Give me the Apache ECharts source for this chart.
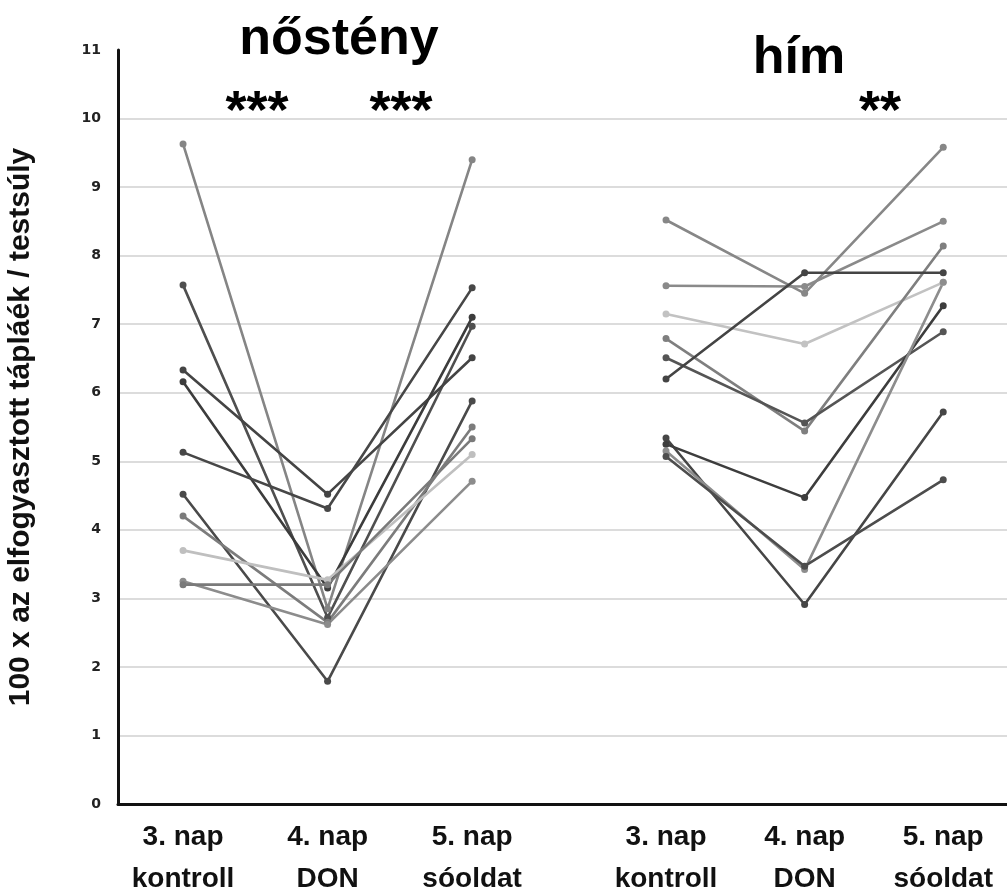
<!DOCTYPE html>
<html>
<head>
<meta charset="utf-8">
<script src="https://cdn.jsdelivr.net/npm/echarts@6/dist/echarts.min.js"></script>
<style>
  html, body { margin: 0; padding: 0; background: #fff; }
  #chart { width: 1007px; height: 893px; }
</style>
</head>
<body>
<div id="chart"></div>
<script>
// kategóriák (x tengely)
var categories = ['3. nap\nkontroll', '4. nap\nDON', '5. nap\nsóoldat'];
var yTicks = [0, 1, 2, 3, 4, 5, 6, 7, 8, 9, 10, 11];

// nőstény - egyedenként: kontroll, DON, sóoldat
var femaleKontroll = [9.63, 7.57, 6.33, 6.16, 5.13, 4.52, 4.20, 3.70, 3.25, 3.20];
var femaleDON      = [2.85, 2.72, 4.52, 3.15, 4.31, 1.79, 2.65, 3.27, 2.62, 3.20];
var femaleSooldat  = [9.40, 6.97, 6.51, 7.10, 7.53, 5.88, 5.50, 5.10, 4.71, 5.33];

// hím
var maleKontroll = [8.52, 7.56, 7.15, 6.79, 6.51, 6.20, 5.34, 5.25, 5.15, 5.07];
var maleDON      = [7.45, 7.55, 6.71, 5.44, 5.56, 7.75, 2.91, 4.47, 3.42, 3.47];
var maleSooldat  = [9.58, 8.50, 7.61, 8.14, 6.89, 7.75, 5.72, 7.27, 7.61, 4.73];

// szignifikancia jelek
var starsF = ['***', '***'];
var starsM = ['**'];

// vonalszínek (szürkeárnyalat)
var femaleColors = ['#858585', '#4f4f4f', '#444444', '#3c3c3c', '#474747', '#4a4a4a', '#7c7c7c', '#bfbfbf', '#8c8c8c', '#7a7a7a'];
var maleColors = ['#878787', '#8a8a8a', '#c2c2c2', '#7f7f7f', '#555555', '#444444', '#464646', '#3d3d3d', '#8d8d8d', '#4d4d4d'];

var chart = echarts.init(document.getElementById('chart'));

function buildSeries(k, d, s, colors, axisIdx) {
  var out = [];
  for (var i = 0; i < k.length; i++) {
    out.push({
      type: 'line',
      xAxisIndex: axisIdx,
      yAxisIndex: axisIdx,
      data: [[0, k[i]], [1, d[i]], [2, s[i]]],
      symbol: 'circle',
      symbolSize: 7,
      lineStyle: { color: colors[i], width: 2.6 },
      itemStyle: { color: colors[i] },
      emphasis: { disabled: true },
      animation: false,
      z: 3
    });
  }
  return out;
}

var FONT = '"Liberation Sans", Arial, sans-serif';

function xAxisCfg(idx, min, max) {
  return {
    type: 'value',
    gridIndex: idx,
    min: min,
    max: max,
    axisLine: { show: true, onZero: false, lineStyle: { color: '#111', width: 3 } },
    axisTick: { show: false },
    splitLine: { show: false },
    axisLabel: {
      customValues: [0, 1, 2],
      margin: 12,
      fontFamily: FONT,
      fontWeight: 'bold',
      fontSize: 28,
      color: '#111',
      lineHeight: 42,
      formatter: function (v) { return categories[Math.round(v)]; }
    }
  };
}

var option = {
  backgroundColor: '#fff',
  animation: false,
  grid: [
    { left: 118, top: 50, width: 451, bottom: 89, outerBoundsMode: 'none', containLabel: false },
    { left: 569, top: 50, right: 0, bottom: 89, outerBoundsMode: 'none', containLabel: false }
  ],
  xAxis: [xAxisCfg(0, -0.45, 2.67), xAxisCfg(1, -0.70, 2.46)],
  yAxis: [
    {
      type: 'value', gridIndex: 0, min: 0, max: 11, interval: 1,
      name: '100 x az elfogyasztott tápláék / testsúly',
      nameLocation: 'middle',
      nameGap: 82,
      nameTextStyle: { fontFamily: FONT, fontWeight: 'bold', fontSize: 30, color: '#111' },
      axisLine: { show: true, onZero: false, lineStyle: { color: '#111', width: 3 } },
      axisTick: { show: false },
      axisLabel: {
        margin: 17,
        fontFamily: '"DejaVu Sans", Verdana, sans-serif',
        fontWeight: 'bold', fontSize: 14, color: '#222',
        formatter: function (v) { return yTicks[v] !== undefined ? String(yTicks[v]) : v; }
      },
      splitLine: { show: true, showMinLine: false, showMaxLine: false, lineStyle: { color: '#dcdcdc', width: 2 } }
    },
    {
      type: 'value', gridIndex: 1, min: 0, max: 11, interval: 1,
      axisLine: { show: false, onZero: false },
      axisTick: { show: false },
      axisLabel: { show: false },
      splitLine: { show: true, showMinLine: false, showMaxLine: false, lineStyle: { color: '#dcdcdc', width: 2 } }
    }
  ],
  graphic: [
    { type: 'text', x: 339, y: 40, style: { text: 'nőstény', textAlign: 'center', textVerticalAlign: 'middle',
      font: 'bold 52px ' + FONT, fill: '#000' } },
    { type: 'text', x: 799, y: 59, style: { text: 'hím', textAlign: 'center', textVerticalAlign: 'middle',
      font: 'bold 52px ' + FONT, fill: '#000' } },
    { type: 'text', x: 257, y: 113, style: { text: starsF[0], textAlign: 'center', textVerticalAlign: 'middle',
      font: 'bold 54px ' + FONT, fill: '#000' } },
    { type: 'text', x: 401, y: 113, style: { text: starsF[1], textAlign: 'center', textVerticalAlign: 'middle',
      font: 'bold 54px ' + FONT, fill: '#000' } },
    { type: 'text', x: 880, y: 113, style: { text: starsM[0], textAlign: 'center', textVerticalAlign: 'middle',
      font: 'bold 54px ' + FONT, fill: '#000' } }
  ],
  series: buildSeries(femaleKontroll, femaleDON, femaleSooldat, femaleColors, 0)
    .concat(buildSeries(maleKontroll, maleDON, maleSooldat, maleColors, 1))
};

chart.setOption(option);
</script>
</body>
</html>
